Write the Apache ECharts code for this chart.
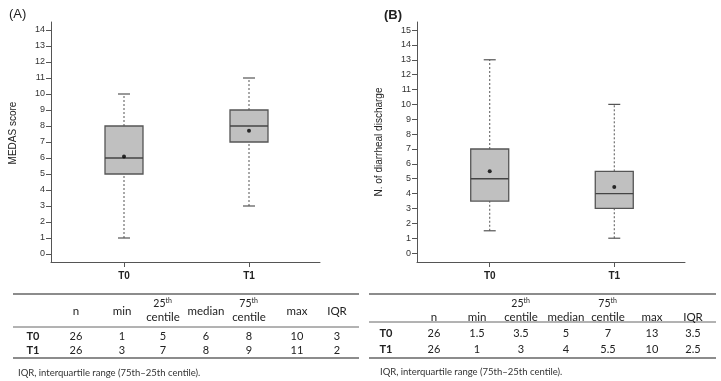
<!DOCTYPE html>
<html>
<head>
<meta charset="utf-8">
<script src="https://cdn.jsdelivr.net/npm/echarts@6/dist/echarts.min.js"></script>
<style>
  html, body { margin: 0; padding: 0; background: #fff; }
  #chart { width: 721px; height: 381px; }
</style>
</head>
<body>
<div id="chart"></div>
<script>
// data
const groups = ['T0', 'T1'];
// [min, q1, median, q3, max]
const medasBox = [[1, 5, 6, 8, 10], [3, 7, 8, 9, 11]];
const medasMean = [6.1, 7.7];
const diarrBox = [[1.5, 3.5, 5, 7, 13], [1, 3, 4, 5.5, 10]];
const diarrMean = [5.5, 4.45];
const yTicksA = [0, 1, 2, 3, 4, 5, 6, 7, 8, 9, 10, 11, 12, 13, 14];
const yTicksB = [0, 1, 2, 3, 4, 5, 6, 7, 8, 9, 10, 11, 12, 13, 14, 15];

const tableHead = ['n', 'min', '25|th|centile', 'median', '75|th|centile', 'max', 'IQR'];
const tableRowsA = [
    ['T0', '26', '1', '5', '6', '8', '10', '3'],
    ['T1', '26', '3', '7', '8', '9', '11', '2']
];
const tableRowsB = [
    ['T0', '26', '1.5', '3.5', '5', '7', '13', '3.5'],
    ['T1', '26', '1', '3', '4', '5.5', '10', '2.5']
];
const footnote = 'IQR, interquartile range (75th\u201325th centile).';

// layout
const tFont = '"Lato", "Open Sans", sans-serif';
const lineColor = '#666';
const layoutA = {
    cols: [33, 76, 122, 163, 206, 249, 297, 337],
    x0: 13, x1: 359, top: 294, sep: 327, bottom: 358,
    headY: 311, supY: 304, centY: 317, rows: [336, 350], footX: 18, footY: 373
};
const layoutB = {
    cols: [386, 434, 477, 521, 566, 608, 652, 693],
    x0: 369, x1: 716, top: 294, sep: 322, bottom: 358,
    headY: 317, supY: 304, centY: 317, rows: [333, 349], footX: 380, footY: 372
};

function txt(x, y, s, opt) {
    opt = opt || {};
    return {
        type: 'text', x: x, y: y, silent: true,
        style: {
            text: s,
            fill: opt.color || '#222',
            font: (opt.weight || 'normal') + ' ' + (opt.size || 11.5) + 'px ' + tFont,
            align: opt.align || 'center', textAlign: opt.align || 'center',
            verticalAlign: 'middle', textVerticalAlign: 'middle'
        }
    };
}

function hline(x0, x1, y, w) {
    return {
        type: 'line', silent: true,
        shape: {x1: x0, y1: y, x2: x1, y2: y},
        style: {stroke: lineColor, lineWidth: w}
    };
}

function buildTable(rows, L) {
    const els = [];
    els.push(hline(L.x0, L.x1, L.top, 1.6));
    els.push(hline(L.x0, L.x1, L.sep, 1));
    els.push(hline(L.x0, L.x1, L.bottom, 1.6));
    tableHead.forEach((h, i) => {
        const cx = L.cols[i + 1];
        const parts = h.split('|');
        if (parts.length === 3) {
            els.push(txt(cx + 2.5, L.supY, parts[0], {align: 'right', size: 10.5}));
            els.push(txt(cx + 2.5, L.supY - 3, parts[1], {align: 'left', size: 7}));
            els.push(txt(cx, L.centY, parts[2]));
        } else {
            els.push(txt(cx, L.headY, h));
        }
    });
    rows.forEach((r, ri) => {
        r.forEach((v, ci) => {
            els.push(txt(L.cols[ci], L.rows[ri], v, {weight: ci === 0 ? 'bold' : 'normal', size: 11}));
        });
    });
    els.push(txt(L.footX, L.footY, footnote, {align: 'left', size: 9.5, color: '#333'}));
    return els;
}

function renderBox(params, api) {
    const x = api.value(0);
    const lo = api.coord([x, api.value(1)]);
    const q1 = api.coord([x, api.value(2)]);
    const md = api.coord([x, api.value(3)]);
    const q3 = api.coord([x, api.value(4)]);
    const hi = api.coord([x, api.value(5)]);
    const hw = 19, cw = 6;
    const dash = {stroke: '#555', lineWidth: 1, lineDash: [2, 2]};
    const solid = {stroke: '#555', lineWidth: 1.2};
    return {
        type: 'group',
        children: [
            {type: 'line', shape: {x1: lo[0], y1: lo[1], x2: q1[0], y2: q1[1]}, style: dash},
            {type: 'line', shape: {x1: q3[0], y1: q3[1], x2: hi[0], y2: hi[1]}, style: dash},
            {type: 'line', shape: {x1: lo[0] - cw, y1: lo[1], x2: lo[0] + cw, y2: lo[1]}, style: solid},
            {type: 'line', shape: {x1: hi[0] - cw, y1: hi[1], x2: hi[0] + cw, y2: hi[1]}, style: solid},
            {type: 'rect', shape: {x: q3[0] - hw, y: q3[1], width: hw * 2, height: q1[1] - q3[1]},
                style: {fill: '#c0c0c0', stroke: '#555', lineWidth: 1.3}},
            {type: 'line', shape: {x1: md[0] - hw, y1: md[1], x2: md[0] + hw, y2: md[1]}, style: {stroke: '#444', lineWidth: 1.3}}
        ]
    };
}

const axisColor = '#555';
function xAxisOf(gi) {
    return {
        type: 'value', gridIndex: gi, min: -0.584, max: 1.568,
        axisLine: {show: true, onZero: false, lineStyle: {color: axisColor, width: 1}},
        axisTick: {show: true, length: 5, customValues: [0, 1], lineStyle: {color: axisColor}},
        axisLabel: {
            customValues: [0, 1], margin: 9, color: '#222', fontSize: 10, fontWeight: 'bold',
            fontFamily: 'Liberation Sans, Arial, sans-serif',
            formatter: v => groups[Math.round(v)]
        },
        splitLine: {show: false}
    };
}
function yAxisOf(gi, min, max, ticks, name, pad) {
    return {
        type: 'value', gridIndex: gi, min: min, max: max,
        name: name, nameLocation: 'middle', nameGap: 33,
        nameTextStyle: {color: '#222', fontSize: 10, fontFamily: 'Liberation Sans, Arial, sans-serif', padding: pad},
        axisLine: {show: true, onZero: false, lineStyle: {color: axisColor, width: 1}},
        axisTick: {show: true, length: 5, customValues: ticks, lineStyle: {color: axisColor}},
        axisLabel: {customValues: ticks, margin: 6, color: '#333', fontSize: 9, fontFamily: 'Liberation Sans, Arial, sans-serif'},
        splitLine: {show: false}
    };
}

const chart = echarts.init(document.getElementById('chart'));
chart.setOption({
    backgroundColor: '#fff',
    animation: false,
    title: [
        {text: '(A)', left: 4, top: 3, textStyle: {fontSize: 13, fontWeight: 'normal', color: '#222', fontFamily: 'Liberation Sans, Arial, sans-serif'}},
        {text: '(B)', left: 379, top: 4, textStyle: {fontSize: 13, fontWeight: 'bold', color: '#222', fontFamily: 'Liberation Sans, Arial, sans-serif'}}
    ],
    grid: [
        {left: 51, top: 22, width: 269, height: 240},
        {left: 417, top: 22, width: 268, height: 240}
    ],
    xAxis: [xAxisOf(0), xAxisOf(1)],
    yAxis: [
        yAxisOf(0, -0.5, 14.5, yTicksA, 'MEDAS score', [0, 0, 0, 18]),
        yAxisOf(1, -0.6, 15.54, yTicksB, 'N. of diarrheal discharge', [0, 0, 0, 0])
    ],
    series: [
        {
            type: 'custom', xAxisIndex: 0, yAxisIndex: 0, renderItem: renderBox,
            encode: {x: 0, y: [1, 2, 3, 4, 5]},
            data: medasBox.map((b, i) => [i].concat(b))
        },
        {
            type: 'scatter', xAxisIndex: 0, yAxisIndex: 0, symbolSize: 4,
            itemStyle: {color: '#000'},
            data: medasMean.map((m, i) => [i, m])
        },
        {
            type: 'custom', xAxisIndex: 1, yAxisIndex: 1, renderItem: renderBox,
            encode: {x: 0, y: [1, 2, 3, 4, 5]},
            data: diarrBox.map((b, i) => [i].concat(b))
        },
        {
            type: 'scatter', xAxisIndex: 1, yAxisIndex: 1, symbolSize: 4,
            itemStyle: {color: '#000'},
            data: diarrMean.map((m, i) => [i, m])
        }
    ],
    graphic: buildTable(tableRowsA, layoutA).concat(buildTable(tableRowsB, layoutB))
});
</script>
</body>
</html>
